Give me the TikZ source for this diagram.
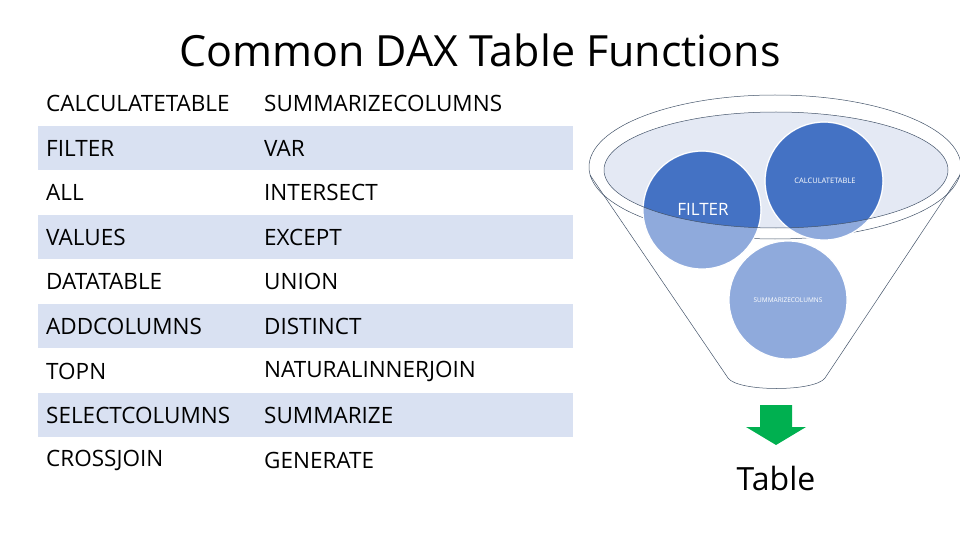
\documentclass[tikz,border=0pt]{standalone}
\usepackage{fontspec}
\setmainfont{Open Sans}
\begin{document}
\begin{tikzpicture}[x=1pt,y=-1pt,
  cell/.style={anchor=west,inner sep=0pt,font=\fontsize{22.5}{24}\selectfont},
  circ/.style={draw=white,line width=1.2pt,fill=lightb}]
\definecolor{bandc}{HTML}{D9E1F2}
\definecolor{darkb}{HTML}{4472C4}
\definecolor{lightb}{HTML}{8FAADC}
\definecolor{ellc}{HTML}{E4E9F4}
\definecolor{linec}{HTML}{44546A}
\definecolor{greenc}{HTML}{00B050}
\useasboundingbox (0,0) rectangle (960,540);
\node[font=\fontsize{43}{45}\selectfont] (title) at (480,50) {Common DAX Table Functions};
\foreach \y in {148,237,326,415}{\fill[bandc] (38,\y-22) rectangle (573,\y+22);}
\foreach \y/\a/\b [count=\i] in {103/CALCULATETABLE/SUMMARIZECOLUMNS,148/FILTER/VAR,192/ALL/INTERSECT,237/VALUES/EXCEPT,281/DATATABLE/UNION,326/ADDCOLUMNS/DISTINCT,371/TOPN/NATURALINNERJOIN,415/SELECTCOLUMNS/SUMMARIZE,460/CROSSJOIN/GENERATE}{
  \node[cell] (a\i) at (46,\y) {\a};
  \node[cell] (b\i) at (264,\y) {\b};}
% funnel
\draw[linec,line width=0.5pt] (590,175) -- (728,378) .. controls (738,392) and (815,392) .. (825,378) -- (960,175);
\draw[linec,line width=0.5pt] (775,167) ellipse [x radius=186, y radius=72];
\fill[ellc] (776,170) ellipse [x radius=172, y radius=58];
\node[circ,circle,minimum size=118pt,inner sep=0pt] (f) at (702,210) {};
\node[circ,circle,minimum size=118pt,inner sep=0pt] (c) at (824,181) {};
\node[circ,circle,minimum size=118pt,inner sep=0pt,font=\fontsize{6.5}{7}\selectfont,text=white] (s) at (788,300) {SUMMARIZECOLUMNS};
\begin{scope}
\clip (776,170) ellipse [x radius=172, y radius=58];
\fill[darkb] (f.center) circle (58);
\fill[darkb] (c.center) circle (58);
\end{scope}
\draw[linec,line width=0.5pt] (776,170) ellipse [x radius=172, y radius=58];
\node[text=white,font=\fontsize{17}{18}\selectfont] (ft) at (703,209) {FILTER};
\node[text=white,font=\fontsize{7.5}{8}\selectfont] (ct) at (825,181) {CALCULATETABLE};
\node[font=\fontsize{32}{34}\selectfont] (t) at (776,478) {Table};
\fill[greenc] (760,405) -- (792,405) -- (792,427) -- (806,427) -- (776,445) -- (746,427) -- (760,427) -- cycle;
\end{tikzpicture}
\end{document}
